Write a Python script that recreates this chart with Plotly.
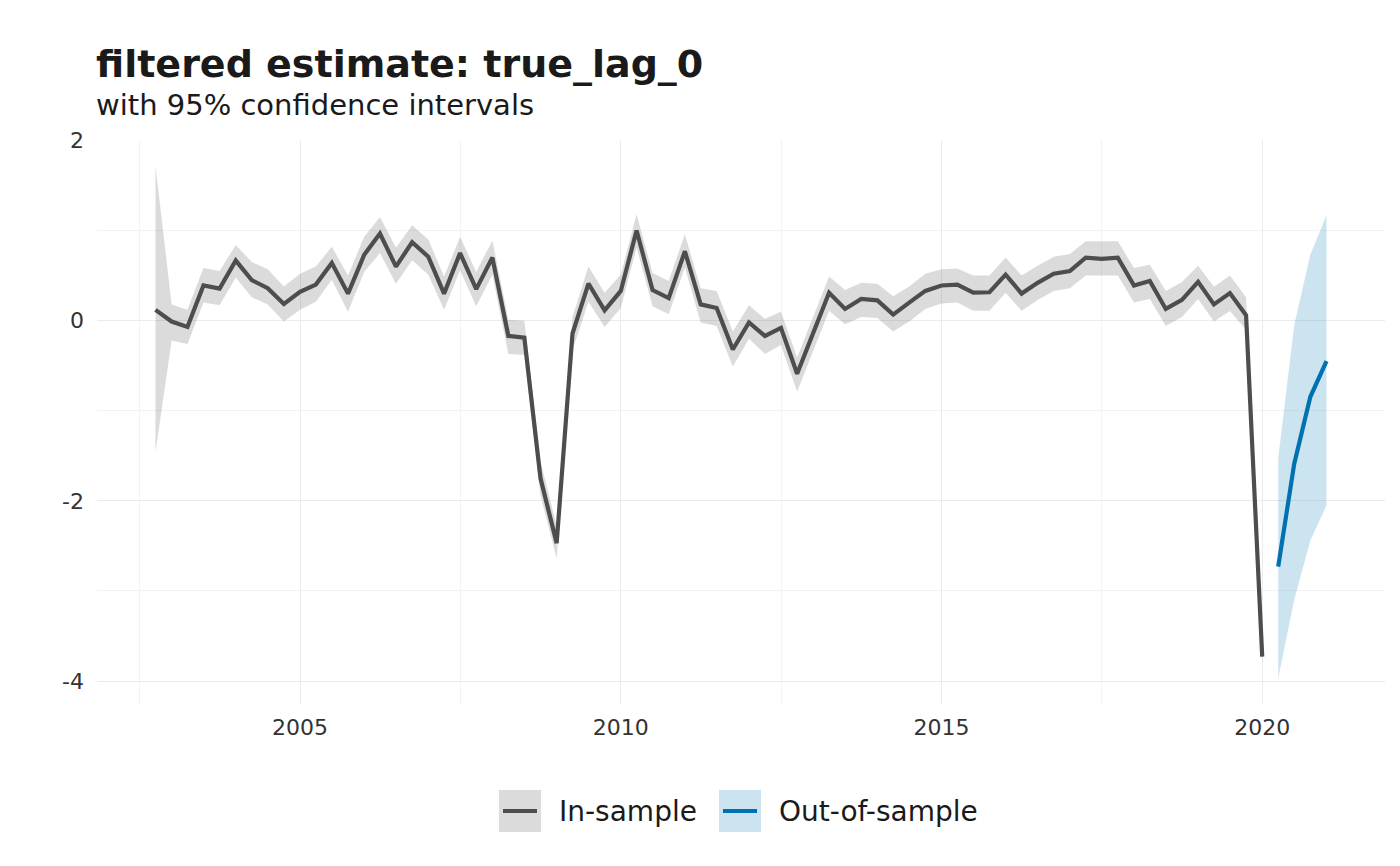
import pandas as pd
import plotly.graph_objects as go

# ---- data ----
in_dates = pd.date_range("2002-10-01", periods=70, freq="QS")
in_est = [0.12, -0.01, -0.07, 0.39, 0.355, 0.667, 0.45, 0.36, 0.185, 0.32,
          0.40, 0.64, 0.30, 0.73, 0.967, 0.60, 0.87, 0.71, 0.30, 0.75,
          0.35, 0.70, -0.17, -0.19, -1.75, -2.47, -0.145, 0.41, 0.115, 0.33,
          1.00, 0.34, 0.25, 0.77, 0.18, 0.14, -0.32, -0.02, -0.17, -0.08,
          -0.59, -0.145, 0.31, 0.13, 0.24, 0.225, 0.067, 0.20, 0.33, 0.39,
          0.40, 0.31, 0.315, 0.51, 0.30, 0.42, 0.52, 0.55, 0.70, 0.685,
          0.70, 0.39, 0.44, 0.13, 0.23, 0.43, 0.18, 0.306, 0.06, -3.73]
in_lo = [-1.46, -0.22, -0.26, 0.20, 0.17, 0.48, 0.26, 0.18, -0.01, 0.12,
         0.21, 0.455, 0.10, 0.54, 0.75, 0.41, 0.67, 0.51, 0.12, 0.56,
         0.16, 0.51, -0.37, -0.38, -1.94, -2.64, -0.33, 0.21, -0.07, 0.14,
         0.81, 0.16, 0.07, 0.59, -0.02, -0.06, -0.51, -0.20, -0.37, -0.27,
         -0.79, -0.33, 0.11, -0.04, 0.04, 0.03, -0.12, -0.01, 0.13, 0.19,
         0.20, 0.11, 0.11, 0.31, 0.11, 0.23, 0.33, 0.36, 0.50, 0.50,
         0.50, 0.20, 0.24, -0.06, 0.04, 0.24, -0.01, 0.107, -0.10, -3.78]
in_hi = [1.72, 0.18, 0.12, 0.585, 0.55, 0.84, 0.65, 0.57, 0.38, 0.52,
         0.60, 0.82, 0.50, 0.93, 1.15, 0.81, 1.06, 0.90, 0.49, 0.93,
         0.54, 0.89, 0.01, 0.00, -1.56, -2.28, 0.04, 0.60, 0.31, 0.51,
         1.18, 0.53, 0.44, 0.96, 0.36, 0.33, -0.12, 0.17, 0.02, 0.10,
         -0.41, 0.04, 0.49, 0.34, 0.42, 0.41, 0.27, 0.38, 0.52, 0.57,
         0.58, 0.50, 0.50, 0.70, 0.50, 0.61, 0.71, 0.74, 0.88, 0.88,
         0.88, 0.585, 0.62, 0.33, 0.43, 0.61, 0.377, 0.50, 0.26, -3.68]

out_dates = ["2020-04-01", "2020-07-01", "2020-10-01", "2021-01-01"]
out_est = [-2.73, -1.59, -0.845, -0.45]
out_lo = [-3.97, -3.10, -2.44, -2.05]
out_hi = [-1.53, -0.05, 0.73, 1.17]

series_names = ["In-sample", "Out-of-sample"]
title_text = "filtered estimate: true_lag_0"
subtitle_text = "with 95% confidence intervals"
y_ticks = [-4, -2, 0, 2]
y_tick_labels = ["-4", "-2", "0", "2"]
x_tick_years = ["2005", "2010", "2015", "2020"]

# ---- styles ----
GREY_LINE = "#4d4d4d"
GREY_FILL = "rgba(77,77,77,0.2)"
BLUE_LINE = "#0072B2"
BLUE_FILL = "rgba(0,114,178,0.2)"
FONT = "DejaVu Sans"
LW = 4.2

fig = go.Figure()

def add_band(x, lo, hi, fill):
    fig.add_trace(go.Scatter(x=x, y=lo, mode="lines", line=dict(width=0),
                             showlegend=False, hoverinfo="skip"))
    fig.add_trace(go.Scatter(x=x, y=hi, mode="lines", line=dict(width=0),
                             fill="tonexty", fillcolor=fill,
                             showlegend=False, hoverinfo="skip"))

add_band(list(in_dates), in_lo, in_hi, GREY_FILL)
add_band(out_dates, out_lo, out_hi, BLUE_FILL)

fig.add_trace(go.Scatter(x=list(in_dates), y=in_est, mode="lines",
                         line=dict(color=GREY_LINE, width=LW),
                         name=series_names[0], showlegend=False))
fig.add_trace(go.Scatter(x=out_dates, y=out_est, mode="lines",
                         line=dict(color=BLUE_LINE, width=LW),
                         name=series_names[1], showlegend=False))

# page body has an 8px margin; work in reference-screen pixels minus that offset
OFF = 8
W, H = 1400 - 2 * OFF, 866 - 2 * OFF
PL, PR, PT, PB = 97 - OFF, 1385 - OFF, 140 - OFF, 704 - OFF  # panel edges
L, R, T, B = PL, W - PR, PT, H - PB
pw, ph = PR - PL, PB - PT

def px(xp):
    return (xp - OFF - PL) / pw

def py(yp):
    return (PB - (yp - OFF)) / ph

shapes = []
annotations = []
# manual ggplot-style legend (screen coordinates of the reference)
legend_items = [
    (series_names[0], 499, GREY_FILL, GREY_LINE),
    (series_names[1], 719, BLUE_FILL, BLUE_LINE),
]
for name, x0, fill, col in legend_items:
    shapes.append(dict(type="rect", xref="paper", yref="paper",
                       x0=px(x0), x1=px(x0 + 42), y0=py(832), y1=py(790),
                       fillcolor=fill, line=dict(width=0), layer="above"))
    shapes.append(dict(type="line", xref="paper", yref="paper",
                       x0=px(x0 + 4), x1=px(x0 + 38), y0=py(811), y1=py(811),
                       line=dict(color=col, width=LW), layer="above"))
    annotations.append(dict(text=name, xref="paper", yref="paper",
                            x=px(x0 + 60), y=py(811), xanchor="left",
                            yanchor="middle", showarrow=False, xshift=-2,
                            font=dict(family=FONT, size=28, color="#1a1a1a")))

annotations.append(dict(text="<b>" + title_text + "</b>", xref="paper", yref="paper",
                        x=0, y=py(64), xanchor="left", yanchor="middle",
                        showarrow=False, xshift=-3,
                        font=dict(family=FONT, size=38, color="#1a1a1a")))
annotations.append(dict(text=subtitle_text, xref="paper", yref="paper",
                        x=0, y=py(105), xanchor="left", yanchor="middle",
                        showarrow=False, xshift=-3,
                        font=dict(family=FONT, size=29, color="#1a1a1a")))

fig.update_layout(
    width=W, height=H,
    margin=dict(l=L, r=R, t=T, b=B),
    paper_bgcolor="white", plot_bgcolor="white",
    showlegend=False,
    shapes=shapes, annotations=annotations,
    font=dict(family=FONT, color="#333333"),
)
fig.update_xaxes(
    type="date",
    range=["2001-11-02", "2021-11-30"],
    tickvals=[y + "-01-01" for y in x_tick_years],
    ticktext=x_tick_years,
    showgrid=True, gridcolor="#ebebeb", gridwidth=1.1,
    minor=dict(tickvals=["2002-07-02", "2007-07-02", "2012-07-02", "2017-07-02"],
               showgrid=True, gridcolor="#f3f3f3", gridwidth=0.6),
    zeroline=False, showline=False, ticks="",
    tickfont=dict(family=FONT, size=22, color="#333333"),
    ticklabelstandoff=8,
)
fig.update_yaxes(
    range=[-4.255, 2.005],
    tickvals=y_ticks, ticktext=y_tick_labels,
    showgrid=True, gridcolor="#ebebeb", gridwidth=1.1,
    minor=dict(tickvals=[-3, -1, 1], showgrid=True, gridcolor="#f3f3f3", gridwidth=0.6),
    zeroline=False, showline=False, ticks="",
    tickfont=dict(family=FONT, size=22, color="#333333"),
    ticklabelstandoff=12,
)

fig.write_html("out.html")
